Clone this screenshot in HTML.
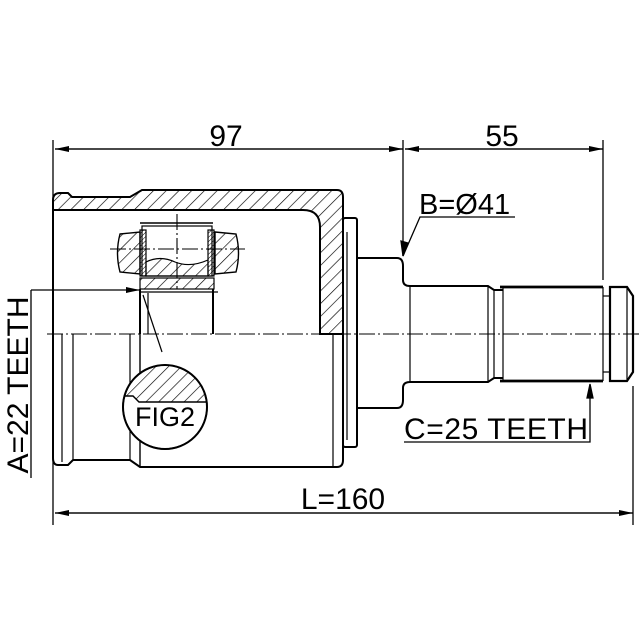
<!DOCTYPE html>
<html><head><meta charset="utf-8"><style>
html,body{margin:0;padding:0;background:#fff;}
svg{display:block;}
text{font-family:"Liberation Sans",Arial,sans-serif;fill:#000;}
</style></head><body>
<svg width="640" height="640" viewBox="0 0 640 640" xmlns="http://www.w3.org/2000/svg">
<defs>
<pattern id="h" patternUnits="userSpaceOnUse" width="9" height="9" patternTransform="rotate(45)">
<line x1="0" y1="0" x2="0" y2="9" stroke="#000" stroke-width="1.3"/>
</pattern>
<pattern id="hf" patternUnits="userSpaceOnUse" width="3" height="3" patternTransform="rotate(45)">
<line x1="0" y1="0" x2="0" y2="3" stroke="#000" stroke-width="1"/>
</pattern>
<marker id="ar" markerWidth="14" markerHeight="6" refX="14" refY="3" orient="auto" markerUnits="userSpaceOnUse">
<path d="M0,0 L14,3 L0,6 Z" fill="#000"/>
</marker>
</defs>
<g fill="none" stroke="#000" stroke-width="1.3">
<line x1="53" y1="140" x2="53" y2="525"/>
<line x1="403" y1="140" x2="403" y2="256"/>
<line x1="603" y1="140" x2="603" y2="280"/>
<line x1="633" y1="386" x2="633" y2="525"/>
<line x1="403" y1="149" x2="55" y2="149" marker-end="url(#ar)"/>
<line x1="55" y1="149" x2="403" y2="149" marker-end="url(#ar)"/>
<line x1="603" y1="149" x2="405" y2="149" marker-end="url(#ar)"/>
<line x1="405" y1="149" x2="603" y2="149" marker-end="url(#ar)"/>
<line x1="633" y1="513" x2="55" y2="513" marker-end="url(#ar)"/>
<line x1="55" y1="513" x2="633" y2="513" marker-end="url(#ar)"/>
<line x1="31" y1="290" x2="31" y2="478"/>
<line x1="31" y1="290" x2="140" y2="290" marker-end="url(#ar)"/>
<polyline points="515,217 420,217 403,256"/>
<path d="M403,256 L401,241 L408,243 Z" fill="#000"/>
<polyline points="404,442 590,442 590,385"/>
<path d="M590,384 L587,398 L593,398 Z" fill="#000"/>
</g>
<path d="M53,200 Q53,193 60,193 L68,193 L72,197 L130,197 L142,190 L337,190 Q343,190 343,197 L343,334 L320,334 L320,227 Q320,210 303,210 L53,210 Z" fill="url(#h)" stroke="#000" stroke-width="2"/>
<g fill="none" stroke="#000" stroke-width="2">
<path d="M53,200 L53,458 Q53,465 58,465 L68,465 L73,460 L130,460 L140,467 L337,467 Q343,467 343,460 L343,334"/>
<line x1="333" y1="334" x2="333" y2="467" stroke-width="1.2"/>
<line x1="140" y1="334" x2="140" y2="467" stroke-width="1.4"/>
<line x1="130" y1="334" x2="130" y2="460" stroke-width="1.2"/>
<line x1="62" y1="334" x2="62" y2="462" stroke-width="1.2"/>
<line x1="73" y1="334" x2="73" y2="460" stroke-width="1.2"/>
<rect x="343" y="218" width="14" height="229" rx="2"/>
<line x1="347" y1="232" x2="347" y2="440" stroke-width="1.2"/>
<path d="M357,258 L397,258 Q403,258 403,266 L403,280 Q403,286 410,286 L488,286 L494,290 L503,290"/>
<path d="M357,408 L397,408 Q403,408 403,400 L403,388 Q403,382 410,382 L488,382 L494,378 L503,378"/>
<line x1="410" y1="286" x2="410" y2="382" stroke-width="1.2"/>
<line x1="488" y1="286" x2="488" y2="382" stroke-width="1.2"/>
<line x1="494" y1="290" x2="494" y2="378" stroke-width="1.2"/>
<path d="M500,287 L603,287 M500,381 L603,381" stroke-width="2.8"/>
<line x1="503" y1="287" x2="503" y2="381" stroke-width="1.2"/>
<line x1="603" y1="287" x2="603" y2="381" stroke-width="1.2"/>
<line x1="603" y1="296" x2="610" y2="296" stroke-width="1.2"/>
<line x1="603" y1="372" x2="610" y2="372" stroke-width="1.2"/>
<path d="M610,287 L627,287 L633,296 L633,372 L627,381 L610,381 Z" stroke-width="2.2"/>
<line x1="627" y1="287" x2="627" y2="381" stroke-width="1.2"/>
<path d="M140,223 L213,223" stroke-width="1.4"/>
<rect x="142" y="226" width="70" height="50" stroke-width="1.2"/>
<path d="M120,234 L140,232 L140,274 L120,272 Q115,253 120,234 Z" fill="url(#h)" stroke-width="1.4"/>
<path d="M215,232 L236,234 Q241,253 236,272 L215,274 Z" fill="url(#h)" stroke-width="1.4"/>
<rect x="140" y="230" width="6" height="46" fill="url(#hf)" stroke-width="1.2"/>
<rect x="208" y="230" width="6" height="46" fill="url(#hf)" stroke-width="1.2"/>
<path d="M146,262 Q160,255 175,262 Q190,268 208,260 L208,276 L146,276 Z" fill="url(#h)" stroke-width="1.2"/>
<rect x="140" y="278" width="74" height="11" fill="url(#h)" stroke-width="1.2"/>
<line x1="140" y1="289" x2="140" y2="334"/>
<line x1="213" y1="289" x2="213" y2="334"/>
<line x1="148" y1="293" x2="148" y2="334" stroke-width="1.2"/>
<line x1="140" y1="292" x2="218" y2="292" stroke-width="1.2"/>
<line x1="143" y1="295" x2="162" y2="352" stroke-width="1.2"/>
<circle cx="165" cy="407" r="42" fill="#fff"/>
</g>
<clipPath id="cc"><circle cx="165" cy="407" r="42"/></clipPath>
<g clip-path="url(#cc)">
<path d="M120,360 L210,360 L210,402 L139,402 L133,396 L120,396 Z" fill="url(#h)" stroke="#000" stroke-width="1.4"/>
</g>
<circle cx="165" cy="407" r="42" fill="none" stroke="#000" stroke-width="1.6"/>
<g stroke="#000" stroke-width="1.1" stroke-dasharray="16,3,2,3" fill="none">
<line x1="47" y1="334" x2="640" y2="334"/>
<line x1="110" y1="249" x2="245" y2="249"/>
<line x1="177" y1="214" x2="177" y2="289"/>
</g>
<text x="226" y="146" font-size="30" text-anchor="middle">97</text>
<text x="502" y="146" font-size="30" text-anchor="middle">55</text>
<text x="343" y="509" font-size="30" text-anchor="middle">L=160</text>
<text x="419" y="214" font-size="29">B=Ø41</text>
<text x="404" y="439" font-size="30" textLength="184">C=25 TEETH</text>
<text x="165" y="426" font-size="27" text-anchor="middle">FIG2</text>
<text transform="translate(28,385) rotate(-90)" font-size="30" text-anchor="middle">A=22 TEETH</text>
</svg>
</body></html>
